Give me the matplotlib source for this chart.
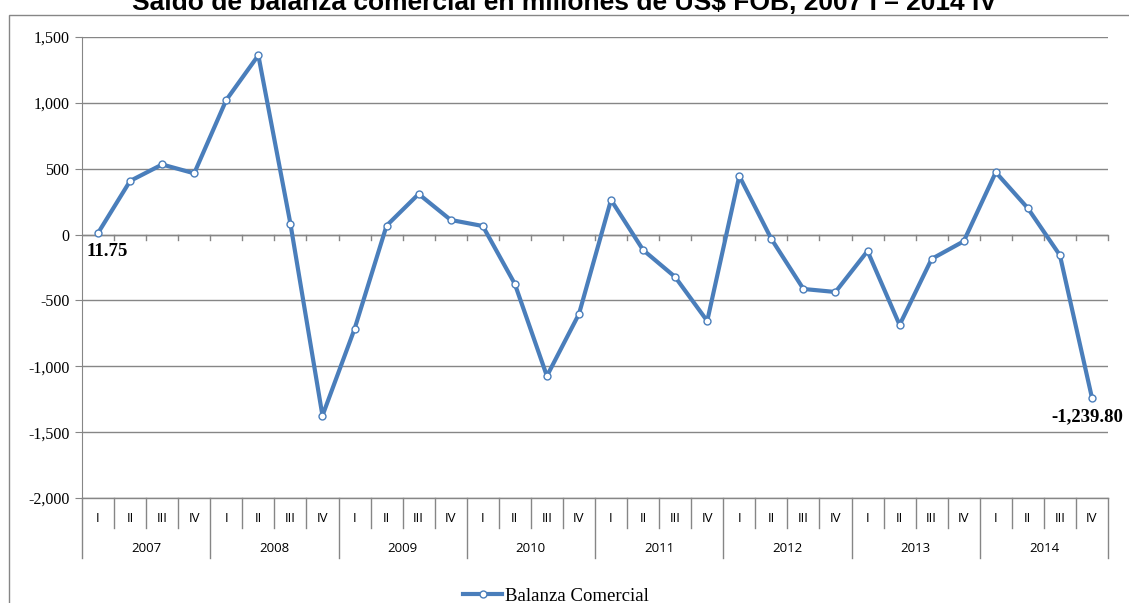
import numpy as np
import matplotlib
matplotlib.use('Agg')
import matplotlib.pyplot as plt
from matplotlib.patches import Rectangle
from matplotlib.ticker import FuncFormatter
import matplotlib.transforms as mtransforms

# datos: saldo de balanza comercial (millones US$ FOB)
years = ['2007', '2008', '2009', '2010', '2011', '2012', '2013', '2014']
quarters = ['I', 'II', 'III', 'IV']
balanza = [11.75, 407, 532, 465, 1022, 1361, 83, -1375,
           -717, 68, 308, 111, 65, -375, -1074, -603,
           263, -117, -322, -656, 445, -33, -413, -436,
           -125, -686, -185, -51, 473, 200, -157, -1239.80]

W, H = 1129, 603
fig = plt.figure(figsize=(W / 100, H / 100), dpi=100, facecolor='white')
ax = fig.add_axes([82 / W, 1 - 498 / H, (1108 - 82) / W, (498 - 37) / H])

gray = '#868686'
blue = '#4A7EBB'
serif = ['Liberation Serif', 'DejaVu Serif']
sans = ['Open Sans', 'DejaVu Sans']

# marco del grafico
fig.patches.append(Rectangle((9 / W, -0.2), 1.2, 1.2 - 15 / H, transform=fig.transFigure,
                             fill=False, edgecolor=gray, linewidth=1.0))

fig.text(0.5, 1 - 10 / H, 'Saldo de balanza comercial en millones de US$ FOB, 2007 I \u2013 2014 IV',
         ha='center', va='baseline', fontsize=19, fontweight='bold', family=['Liberation Sans'])

x = np.arange(len(balanza))
ax.plot(x, balanza, color=blue, linewidth=3, marker='o', markersize=5,
        markerfacecolor='white', markeredgecolor=blue, markeredgewidth=1.0,
        label='Balanza Comercial', zorder=3)

ax.set_xlim(-0.5, len(balanza) - 0.5)
ax.set_ylim(-2000, 1500)
ax.set_yticks(np.arange(-2000, 1501, 500))
ax.yaxis.set_major_formatter(FuncFormatter(lambda v, p: f'{v:,.0f}'))
ax.grid(axis='y', color=gray, linewidth=1.0)
ax.set_axisbelow(True)
for s in ['top', 'right', 'bottom']:
    ax.spines[s].set_visible(False)
ax.spines['left'].set_color(gray)
ax.tick_params(axis='y', length=5, color=gray, labelsize=11.5, pad=4)
for lab in ax.get_yticklabels():
    lab.set_family(serif)
ax.set_xticks([])

# eje x en cero con marcas entre categorias
ax.axhline(0, color=gray, linewidth=1.0, zorder=2)
trans = mtransforms.blended_transform_factory(ax.transData, ax.transAxes)
tick_len = 5 / 461
for k in range(1, len(balanza) + 1):
    ax.plot([k - 0.5, k - 0.5], [2000 / 3500, 2000 / 3500 - tick_len], transform=trans,
            color=gray, linewidth=1.0, clip_on=False)

# tabla de categorias en dos niveles
q_bot = -30 / 461
y_bot = -60 / 461
ax.plot([-0.5, len(balanza) - 0.5], [0, 0], transform=trans, color=gray, linewidth=1.0, clip_on=False)
for k in range(len(balanza) + 1):
    yb = y_bot if k % 4 == 0 else q_bot
    ax.plot([k - 0.5, k - 0.5], [0, yb], transform=trans, color=gray, linewidth=1.0, clip_on=False)
for i in range(len(balanza)):
    ax.text(i, -20 / 461, quarters[i % 4], transform=trans, ha='center', va='center',
            fontsize=9.5, family=sans)
for j, yr in enumerate(years):
    ax.text(4 * j + 1.5, -51 / 461, yr, transform=trans, ha='center', va='center',
            fontsize=9.5, family=sans)

# etiquetas de datos
ax.text(-0.36, 11.75 - 140, '11.75', ha='left', va='center', fontsize=13.5, fontweight='bold', family=serif)
ax.text(29.72, -1239.8 - 140, '-1,239.80', ha='left', va='center', fontsize=13.5,
        fontweight='bold', family=serif, clip_on=False)

leg = ax.legend(loc='center', bbox_to_anchor=(556 / W, 1 - 596 / H), bbox_transform=fig.transFigure,
                frameon=False, prop={'family': serif, 'size': 13.5}, handlelength=2.1, handletextpad=0.15)

plt.savefig('out.png', dpi=100)
